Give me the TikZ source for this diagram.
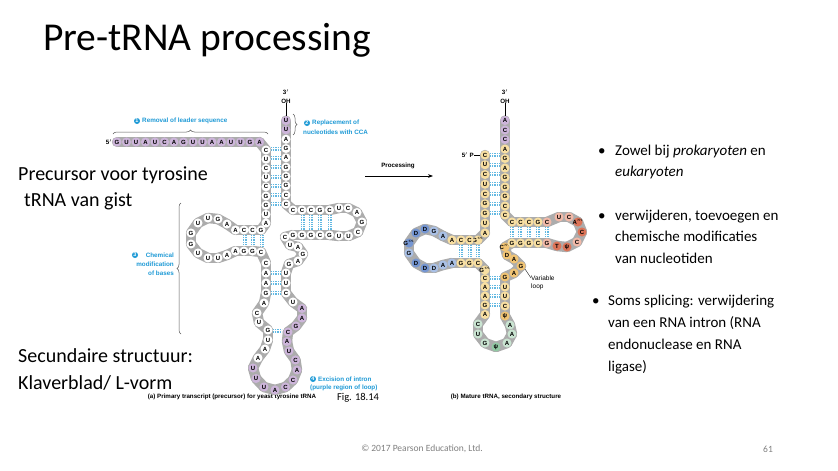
\documentclass[tikz,border=0pt]{standalone}
\usepackage{fontspec}
\setmainfont{Carlito}
\newfontfamily\hv{Liberation Sans}
\usetikzlibrary{decorations.pathreplacing,arrows.meta}
\definecolor{cW}{HTML}{FFFFFF}
\definecolor{cP}{HTML}{CDB5DA}
\definecolor{cY}{HTML}{F8DFA2}
\definecolor{cO}{HTML}{F1C474}
\definecolor{cB}{HTML}{A9C0E6}
\definecolor{cD}{HTML}{7596D2}
\definecolor{cS}{HTML}{F2B9A8}
\definecolor{cR}{HTML}{DC7458}
\definecolor{cG}{HTML}{C9E4D1}
\definecolor{cH}{HTML}{92C9A4}
\definecolor{ann}{HTML}{1E9AD6}
\tikzset{
  base/.style={font=\hv\bfseries\fontsize{6}{6.5}\selectfont, inner sep=0},
  bp/.style={color=ann!70, line width=0.9, dash pattern=on 0.9pt off 0.9pt},
  note/.style={font=\hv\bfseries\fontsize{6.3}{7.5}\selectfont, text=ann, inner sep=0},
  num/.style={circle, fill=ann, text=white, inner sep=0.4pt, font=\hv\bfseries\fontsize{5.5}{6}\selectfont},
  small/.style={font=\hv\bfseries\fontsize{6.2}{7}\selectfont, inner sep=0},
  body/.style={font=\fontsize{20}{24}\selectfont, anchor=base west, inner sep=0},
  bul/.style={font=\fontsize{15}{18}\selectfont, anchor=base west, inner sep=0},
  brc/.style={decorate, decoration={brace, amplitude=4pt}, line width=0.5, gray!70!black}
}
\newcommand\strand[1]{%
  \foreach \x/\y/\t/\c [count=\i, remember=\x as \px (initially 0), remember=\y as \py (initially 0)] in {#1}{%
    \ifnum\i>1 \draw[line width=10.4, gray!65, line cap=round] (\px,\py)--(\x,\y);\fi}
  \foreach \x/\y/\t/\c in {#1}{\fill[\c] (\x,\y) circle (4.55); \node[base] at (\x,\y) {\t};}%
}
\newcommand\bph[3]{\draw[bp] (#1,#3-1.4)--(#2,#3-1.4) (#1,#3)--(#2,#3) (#1,#3+1.4)--(#2,#3+1.4);}
\newcommand\bpv[3]{\draw[bp] (#1-1.4,#2)--(#1-1.4,#3) (#1,#2)--(#1,#3) (#1+1.4,#2)--(#1+1.4,#3);}
\begin{document}
\begin{tikzpicture}[x=1pt,y=-1pt]
\useasboundingbox[fill=white] (0,0) rectangle (838,471);
% title and texts
\node[anchor=base west, font=\fontsize{39.5}{44}\selectfont, inner sep=0] (title) at (43,50) {Pre-tRNA processing};
\node[body] (p1) at (18,180) {Precursor voor tyrosine};
\node[body] (p2) at (24,206) {tRNA van gist};
\node[body] (s1) at (18,362) {Secundaire structuur:};
\node[body] (s2) at (18,389) {Klaverblad/ L-vorm};
\node[bul] (b1) at (598,155) {•}; \node[bul] (t1) at (615,155) {Zowel bij \textit{prokaryoten} en};
\node[bul] (t2) at (615,176) {\textit{eukaryoten}};
\node[bul] (b2) at (598,220) {•}; \node[bul] (t3) at (615,220) {verwijderen, toevoegen en};
\node[bul] (t4) at (615,241) {chemische modificaties};
\node[bul] (t5) at (615,263) {van nucleotiden};
\node[bul] (b3) at (592,305) {•}; \node[bul] (t6) at (608,305) {Soms splicing: verwijdering};
\node[bul] (t7) at (608,327) {van een RNA intron (RNA};
\node[bul] (t8) at (608,349) {endonuclease en RNA};
\node[bul] (t9) at (608,371) {ligase)};
\node[font=\fontsize{10.5}{12}\selectfont, inner sep=0] (fig) at (358,398) {Fig. 18.14};
\node[small, font=\hv\bfseries\fontsize{6.2}{7}\selectfont] (capa) at (232,397) {(a) Primary transcript (precursor) for yeast tyrosine tRNA};
\node[small, font=\hv\bfseries\fontsize{6.2}{7}\selectfont] (capb) at (506,397) {(b) Mature tRNA, secondary structure};
\node[text=gray, font=\fontsize{9.5}{11}\selectfont] (copy) at (422,449) {© 2017 Pearson Education, Ltd.};
\node[text=gray, font=\fontsize{9.5}{11}\selectfont] (pg) at (768,449) {61};
% processing arrow
\node[small] (proc) at (398,166) {Processing};
\coordinate (pa) at (365,176); \coordinate (pb) at (433,176);
\draw[line width=0.8, -{Stealth[length=5pt]}] (pa) -- (pb);

% ===== LEFT precursor =====
\bph{271}{281}{149}\bph{271}{281}{158}\bph{271}{281}{167}\bph{271}{281}{177}\bph{271}{281}{186}\bph{271}{281}{195}\bph{271}{281}{204}
\bpv{245}{235}{246}\bpv{253}{235}{246}\bpv{262}{235}{246}
\bpv{303}{215}{230}\bpv{311}{215}{230}\bpv{320}{215}{230}\bpv{330}{215}{230}
\bph{271}{281}{273}\bph{271}{281}{283}\bph{271}{281}{293}\bph{273}{282}{331}
\strand{117/142/G/cP,126.5/142/U/cP,136/142/U/cP,145.5/142/A/cP,155/142/U/cP,164.5/142/C/cP,174/142/A/cP,183.5/142/G/cP,193/142/U/cP,202.5/142/U/cP,212/142/A/cP,221.5/142/A/cP,231/142/U/cP,240.5/142/U/cP,250/142/G/cP,259.5/142/A/cP,
266/150/C/cW,266/159.2/U/cW,266/168.4/C/cW,266/177.6/U/cW,266/186.8/C/cW,266/196/G/cW,266/205.2/G/cW,266/214.4/U/cW,266/223/A/cW,
261/230/G/cW,252.5/230/C/cW,244/230/C/cW,235.5/230/A/cW,
227/224/A/cW,218/219/G/cW,208/218/U/cW,198/223/U/cW,191/233/G/cW,191/244/G/cW,198/253/U/cW,208/258/U/cW,218/258/U/cW,227/255/A/cW,
235.5/251/A/cW,244/251/G/cW,252.5/251/G/cW,261/252/C/cW,
266/263/C/cW,266/273/A/cW,266/283/A/cW,266/293/G/cW,264/303/A/cW,
257/313/C/cW,259/322.5/U/cW,268/330/G/cW,268/340/U/cW,265/349/A/cW,258/358/A/cW,253/368/U/cP,256/378.5/U/cP,264/387/U/cP,275/390/A/cP,285.5/387/C/cP,293/380/C/cP,297/370/A/cP,295.5/360/C/cP,289/351/U/cP,287/341.5/A/cP,288/332/C/cP,296/326/G/cP,302/318/A/cP,302/308.5/A/cP,
293/302/U/cW,286/293/C/cW,286/283/U/cW,286/273/U/cW,
289/264/G/cW,298/261/A/cW,303/254/G/cW,298/247/A/cW,290/245/U/cW,285/237/C/cW,
293/235/G/cW,302/235/G/cW,311/235/G/cW,320/235/C/cW,329.5/235/G/cW,
339/236/U/cW,348.5/236/U/cW,358/232/C/cW,362/222/G/cW,357/212.5/A/cW,348/208/C/cW,339/208/U/cW,
329.5/210/C/cW,320/210/G/cW,311/210/C/cW,302/210/C/cW,293/210/C/cW,
286/204/C/cW,286/195/C/cW,286/185.7/G/cW,286/176.4/G/cW,286/167.1/G/cW,286/157.8/A/cW,286/148.5/G/cW,286/139.2/A/cW,286/129.9/U/cP,286/120.6/U/cP}
\node[small] (l5) at (109,142) {5$'$};
\node[small] (l3) at (286,92) {3$'$};
\node[small] (loh) at (286,101) {OH};
\draw[line width=0.4] (loh.south) -- (286,116);
% annotations left
\draw[brc] (113,134) -- (268,134);
\node[num] (n1) at (137,121) {1};
\node[note, anchor=west] (a1) at (142,121) {Removal of leader sequence};
\draw[brc] (293,114) -- (293,135);
\node[num] (n2) at (307,123) {2};
\node[note, anchor=west] (a2) at (312,123) {Replacement of};
\node[note, anchor=west] (a2b) at (303,132) {nucleotides with CCA};
\draw[brc] (181,334) -- (181,203);
\node[note, anchor=east] (a3) at (174,255) {Chemical};
\node[num] (n3) at (135,255) {3};
\node[note, anchor=east] (a3b) at (174,264) {modification};
\node[note, anchor=east] (a3c) at (174,273) {of bases};
\node[num] (n4) at (313,379) {4};
\node[note, anchor=west] (a4) at (318,379) {Excision of intron};
\node[note, anchor=west] (a4b) at (310,388) {(purple region of loop)};

% ===== RIGHT mature =====
\bph{490}{500}{155}\bph{490}{500}{165}\bph{490}{500}{174}\bph{490}{500}{184}\bph{490}{500}{194}\bph{490}{500}{204}\bph{490}{500}{213}
\bpv{461}{245}{258}\bpv{470}{245}{258}\bpv{478}{245}{258}
\bpv{512}{227}{238}\bpv{520}{227}{238}\bpv{529}{227}{238}\bpv{538}{227}{238}\bpv{547}{227}{238}
\bph{490}{500}{278}\bph{490}{500}{287}\bph{490}{500}{296}\bph{490}{500}{305}
\strand{485/155/C/cY,485/164.75/U/cY,485/174.5/C/cY,485/184.25/U/cY,485/194/C/cY,485/203.75/G/cY,485/213.5/G/cY,485/223.25/U/cY,485/233/A/cY,
478/240/G$^m$/cY,469.5/240/C/cY,461/240/C/cY,452/240/A/cY,
443/236/A/cB,434/231/G/cB,425/229/D/cD,416/233/D/cD,409/243/G$^m$/cD,409/253/G/cB,416/263/D/cD,425/268/D/cD,434/268/D/cB,443/265/A/cB,
452/263/A/cB,461/263/G/cY,469.5/263/G/cY,478/263/C/cY,
485/270/G$^m$/cY,485/278.5/C/cY,485/287/A/cY,485/296/A/cY,485/305/G/cY,485/314.5/A/cY,
478/324/C/cG,478/334/U/cG,485/343/G/cG,496/347/ψ/cH,507/343/A/cG,512/334/A/cG,510/325/A/cG,
505/316/ψ/cO,505/306/C/cY,505/296/U/cY,505/287/U/cY,
505/277/G/cO,514/273/A/cO,521/266/G/cO,514/259/A/cO,507/255/D/cO,505/247/C$^m$/cO,
512/243/G/cY,520.5/243/G/cY,529/243/G/cY,538/243/C/cY,547/243/G/cS,
557/246/T/cR,567/247/ψ/cR,577/242/C/cS,582/232/C/cR,578/222/A$^m$/cR,569/217/C/cS,559/217/U/cS,
547/222/C/cS,538/222/G/cY,529/222/C/cY,520.5/222/C/cY,512/222/C/cY,
505/215/C/cY,505/206/C/cY,505/196.5/G/cY,505/187/G/cY,505/177.5/G/cY,505/168/A/cY,505/158.5/G/cY,505/149/A/cY,
505/139.5/C/cP,505/130/C/cP,505/120.5/A/cP}
\node[small] (r3) at (505,92) {3$'$};
\node[small] (roh) at (505,101) {OH};
\draw[line width=0.4] (roh.south) -- (505,116);
\node[small, anchor=east] (r5) at (474,155) {5$'$ P};
\draw[line width=0.4] (r5.east) -- (480,155);
\node[small, anchor=west, font=\hv\fontsize{6.5}{7.5}\selectfont] (vl1) at (531,278) {Variable};
\node[small, anchor=west, font=\hv\fontsize{6.5}{7.5}\selectfont] (vl2) at (531,287) {loop};
\draw[line width=0.4] (525,269) -- (vl1.west);
\end{tikzpicture}
\end{document}
